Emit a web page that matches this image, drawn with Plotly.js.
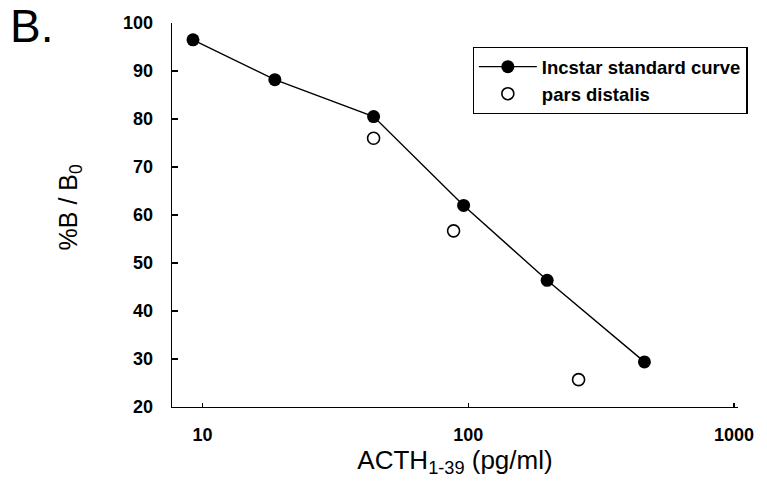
<!DOCTYPE html>
<html>
<head>
<meta charset="utf-8">
<script src="https://cdn.plot.ly/plotly-3.0.1.min.js"></script>
<style>html,body{margin:0;padding:0;background:#fff;}#chart{width:767px;height:491px;}</style>
</head>
<body>
<div id="chart"></div>
<script>
// Data
const standardConc = [9.2, 18.7, 44, 96, 198, 460];
const standardPct  = [96.5, 88.2, 80.5, 62.0, 46.4, 29.4];
const parsConc = [44, 88, 260];
const parsPct  = [76.0, 56.7, 25.7];
const xTickVals = [10, 100, 1000];
const xTickText = ['10', '100', '1000'];
const yTickVals = [20, 30, 40, 50, 60, 70, 80, 90, 100];

const FONT = 'Liberation Sans, Arial, Helvetica, sans-serif';

const traces = [
  {
    x: standardConc, y: standardPct, name: 'Incstar standard curve',
    type: 'scatter', mode: 'lines+markers',
    line: {color: '#000', width: 1.4},
    marker: {color: '#000', size: 13, symbol: 'circle'}
  },
  {
    x: parsConc, y: parsPct, name: 'pars distalis',
    type: 'scatter', mode: 'markers',
    marker: {color: '#000', size: 12, symbol: 'circle-open', line: {color: '#000', width: 1.6}}
  }
];

const layout = {
  width: 767, height: 491,
  margin: {l: 172, r: 29, t: 23, b: 84, pad: 0, autoexpand: false},
  paper_bgcolor: '#fff', plot_bgcolor: '#fff',
  font: {family: FONT, color: '#000'},
  showlegend: true,
  legend: {
    x: 0.531, y: 0.938, xanchor: 'left', yanchor: 'top',
    bgcolor: '#fff', bordercolor: '#000', borderwidth: 1.3,
    font: {family: FONT, size: 18.5, color: '#000', weight: 'bold'},
    itemwidth: 58, tracegroupgap: 0
  },
  xaxis: {
    type: 'log',
    range: [Math.log10(7.67), Math.log10(1035)],
    tickvals: xTickVals, ticktext: xTickText,
    ticks: 'inside', ticklen: 4, tickwidth: 1.3, tickcolor: '#000',
    showline: true, linecolor: '#000', linewidth: 1.4,
    showgrid: false, zeroline: false, mirror: false,
    tickfont: {family: FONT, size: 18, color: '#000', weight: 'bold'},
    ticklabelstandoff: 11,
    title: {text: 'ACTH<sub>1-39</sub> (pg/ml)', font: {family: FONT, size: 26, color: '#000'}, standoff: 2}
  },
  yaxis: {
    range: [20, 100],
    tickvals: yTickVals,
    ticks: 'inside', ticklen: 6, tickwidth: 1.3, tickcolor: '#000',
    showline: true, linecolor: '#000', linewidth: 1.4,
    showgrid: false, zeroline: false, mirror: false,
    tickfont: {family: FONT, size: 18, color: '#000', weight: 'bold'},
    ticklabelstandoff: 14
  },
  annotations: [
    {
      text: 'B.', xref: 'paper', yref: 'paper', x: -0.29, y: 0.993,
      xanchor: 'left', yanchor: 'middle', showarrow: false,
      font: {family: FONT, size: 46, color: '#000'}
    },
    {
      text: '%B / B<sub>0</sub>', xref: 'paper', yref: 'paper', x: -0.18, y: 0.52,
      xanchor: 'center', yanchor: 'middle', textangle: -90, showarrow: false,
      font: {family: FONT, size: 25, color: '#000'}
    }
  ]
};

Plotly.newPlot('chart', traces, layout, {displayModeBar: false, staticPlot: true});
</script>
</body>
</html>
